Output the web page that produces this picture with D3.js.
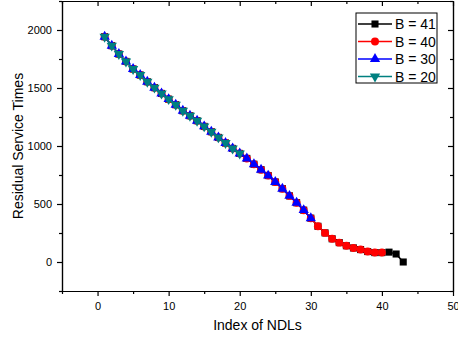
<!DOCTYPE html>
<html>
<head>
<meta charset="utf-8">
<script src="https://cdn.jsdelivr.net/npm/d3@7"></script>
<style>
  body { margin: 0; background: #fff; }
  text { font-family: "Liberation Sans", Arial, sans-serif; }
</style>
</head>
<body>
<div id="chart"></div>
<script>
// data
const indexB41 = [1,2,3,4,5,6,7,8,9,10,11,12,13,14,15,16,17,18,19,20,21,22,23,24,25,26,27,28,29,30,31,32,33,34,35,36,37,38,39,40,41,42,43];
const valuesB41 = [1942,1865,1793,1729,1664,1612,1554,1503,1453,1404,1356,1304,1261,1218,1169,1123,1074,1026,979,936,893,843,796,745,690,632,570,511,447,378,308,251,200,167,140,121,107,90,81,81,85,69,0];
const indexB40 = [1,2,3,4,5,6,7,8,9,10,11,12,13,14,15,16,17,18,19,20,21,22,23,24,25,26,27,28,29,30,31,32,33,34,35,36,37,38,39,40];
const valuesB40 = [1942,1865,1793,1729,1664,1612,1554,1503,1453,1404,1356,1304,1261,1218,1169,1123,1074,1026,979,936,893,843,796,745,690,632,570,511,447,378,308,251,200,167,140,121,107,90,81,81];
const indexB30 = [1,2,3,4,5,6,7,8,9,10,11,12,13,14,15,16,17,18,19,20,21,22,23,24,25,26,27,28,29,30];
const valuesB30 = [1942,1865,1793,1729,1664,1612,1554,1503,1453,1404,1356,1304,1261,1218,1169,1123,1074,1026,979,936,893,843,796,745,690,632,570,511,447,378];
const indexB20 = [1,2,3,4,5,6,7,8,9,10,11,12,13,14,15,16,17,18,19,20];
const valuesB20 = [1942,1865,1793,1729,1664,1612,1554,1503,1453,1404,1356,1304,1261,1218,1169,1123,1074,1026,979,936];

const seriesNames = ["B = 41", "B = 40", "B = 30", "B = 20"];
const xMajorTicks = [0, 10, 20, 30, 40, 50];
const xMinorTicks = [-5, 5, 15, 25, 35, 45];
const yMajorTicks = [0, 500, 1000, 1500, 2000];
const yMinorTicks = [-250, 250, 750, 1250, 1750, 2250];

const W = 458, H = 341;
const margin = {top: 1, right: 5, bottom: 50, left: 62};
const width = W - margin.left - margin.right;
const height = H - margin.top - margin.bottom;

const series = [
  {name: seriesNames[0], xs: indexB41, ys: valuesB41, color: "#000000", symbol: d3.symbolSquare, size: 50, rot: 0},
  {name: seriesNames[1], xs: indexB40, ys: valuesB40, color: "#ff0000", symbol: d3.symbolCircle, size: 50, rot: 0},
  {name: seriesNames[2], xs: indexB30, ys: valuesB30, color: "#0000ff", symbol: d3.symbolTriangle, size: 46, rot: 0},
  {name: seriesNames[3], xs: indexB20, ys: valuesB20, color: "#008080", symbol: d3.symbolTriangle, size: 46, rot: 180}
];

const svg = d3.select("#chart").append("svg")
    .attr("width", W)
    .attr("height", H)
  .append("g")
    .attr("transform", "translate(" + margin.left + "," + margin.top + ")");

const x = d3.scaleLinear().domain([-5, 50]).range([0, width]);
const y = d3.scaleLinear().domain([-250, 2250]).range([height, 0]);

// lines and markers, B=41 at the bottom, B=20 on top
const line = d3.line().x(d => x(d[0])).y(d => y(d[1]));
series.forEach(s => {
  const pts = s.xs.map((v, i) => [v, s.ys[i]]);
  svg.append("path")
    .datum(pts)
    .attr("fill", "none")
    .attr("stroke", s.color)
    .attr("stroke-width", 1.5)
    .attr("d", line);
  svg.selectAll(null)
    .data(pts)
    .enter()
    .append("path")
      .attr("d", d3.symbol().type(s.symbol).size(s.size))
      .attr("transform", d => "translate(" + x(d[0]) + "," + y(d[1]) + ")rotate(" + s.rot + ")")
      .attr("fill", s.color);
});

function styleAxis(g) {
  g.selectAll("path, line").attr("stroke", "#000").attr("stroke-width", 1.2);
  g.selectAll("text").attr("font-size", 11).attr("fill", "#000")
    .style("font-family", "'Liberation Sans', Arial, sans-serif");
}

const fmt = d3.format("d");

// bottom axis
svg.append("g")
  .attr("transform", "translate(0," + height + ")")
  .call(d3.axisBottom(x).tickValues(xMajorTicks).tickFormat(fmt).tickSize(5).tickSizeOuter(0).tickPadding(6))
  .call(styleAxis);
svg.append("g")
  .attr("transform", "translate(0," + height + ")")
  .call(d3.axisBottom(x).tickValues(xMinorTicks).tickSize(3).tickFormat("").tickSizeOuter(0))
  .call(styleAxis);

// left axis
svg.append("g")
  .call(d3.axisLeft(y).tickValues(yMajorTicks).tickFormat(fmt).tickSize(5).tickSizeOuter(0).tickPadding(5))
  .call(styleAxis);
svg.append("g")
  .call(d3.axisLeft(y).tickValues(yMinorTicks).tickSize(3).tickFormat("").tickSizeOuter(0))
  .call(styleAxis);

// top axis, ticks pointing in
svg.append("g")
  .call(d3.axisTop(x).tickValues(xMajorTicks).tickSize(-5).tickFormat("").tickSizeOuter(0))
  .call(styleAxis);
svg.append("g")
  .call(d3.axisTop(x).tickValues(xMinorTicks).tickSize(-3).tickFormat("").tickSizeOuter(0))
  .call(styleAxis);

// right axis, ticks pointing in
svg.append("g")
  .attr("transform", "translate(" + width + ",0)")
  .call(d3.axisRight(y).tickValues(yMajorTicks).tickSize(-5).tickFormat("").tickSizeOuter(0))
  .call(styleAxis);
svg.append("g")
  .attr("transform", "translate(" + width + ",0)")
  .call(d3.axisRight(y).tickValues(yMinorTicks).tickSize(-3).tickFormat("").tickSizeOuter(0))
  .call(styleAxis);

// axis titles
svg.append("text")
  .attr("x", width / 2)
  .attr("y", height + 39)
  .attr("text-anchor", "middle")
  .attr("font-size", 14)
  .text("Index of NDLs");

svg.append("text")
  .attr("transform", "translate(" + (23 - margin.left) + "," + (height / 2) + ")rotate(-90)")
  .attr("text-anchor", "middle")
  .attr("font-size", 14)
  .text("Residual Service Times");

// legend
const legend = svg.append("g")
  .attr("transform", "translate(" + (356 - margin.left) + "," + (13 - margin.top) + ")");
legend.append("rect")
  .attr("width", 81)
  .attr("height", 70)
  .attr("fill", "#fff")
  .attr("stroke", "#000")
  .attr("stroke-width", 1);

series.forEach((s, i) => {
  const ry = 11 + i * 17.5;
  legend.append("line")
    .attr("x1", 2).attr("x2", 36)
    .attr("y1", ry).attr("y2", ry)
    .attr("stroke", s.color)
    .attr("stroke-width", 1.5);
  legend.append("path")
    .attr("d", d3.symbol().type(s.symbol).size(s.size))
    .attr("transform", "translate(19," + ry + ")rotate(" + s.rot + ")")
    .attr("fill", s.color);
  legend.append("text")
    .attr("x", 39)
    .attr("y", ry + 5)
    .attr("font-size", 14)
    .text(s.name);
});
</script>
</body>
</html>
